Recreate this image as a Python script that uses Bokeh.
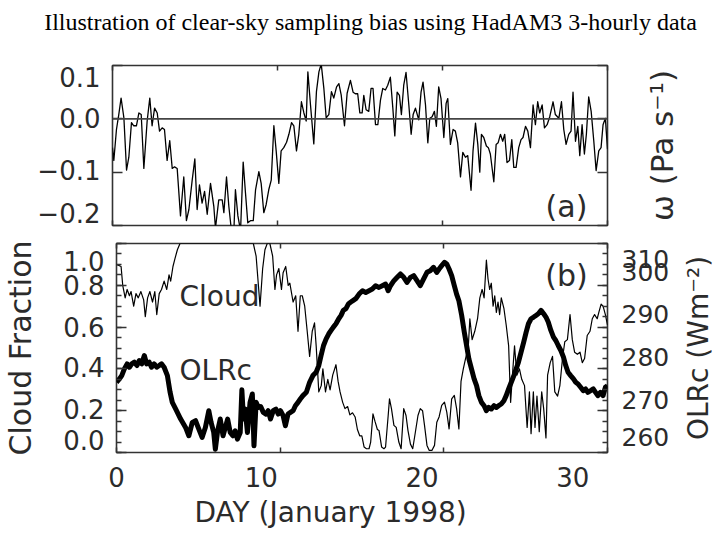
from math import pi
from bokeh.plotting import figure
from bokeh.models import (Range1d, LinearAxis, FixedTicker, SingleIntervalTicker, Span, Label,
                          AllLabels, Title)
from bokeh.layouts import column, row
from bokeh.embed import file_html
from bokeh.resources import INLINE

# ---------------- data ----------------
title_text = "Illustration of clear-sky sampling bias using HadAM3 3-hourly data"

day_ticks = [0, 10, 20, 30]
day_tick_labels = ["0", "10", "20", "30"]

omega_ticks = [0.1, 0.0, -0.1, -0.2]
omega_tick_labels = ["0.1", "0.0", "\u22120.1", "\u22120.2"]

cloud_ticks = [1.0, 0.8, 0.6, 0.4, 0.2, 0.0]
cloud_tick_labels = ["1.0", "0.8", "0.6", "0.4", "0.2", "0.0"]

olr_ticks = [310, 300, 290, 280, 270, 260]
olr_tick_labels = ["310", "300", "290", "280", "270", "260"]

omega_day = [0.00, 0.08, 0.24, 0.38, 0.52, 0.69, 0.85, 0.99, 1.15, 1.29, 1.45, 1.60, 1.74, 1.90,
             2.10, 2.26, 2.40, 2.55, 2.71, 2.85, 3.01, 3.15, 3.31, 3.47, 3.62, 3.76, 3.92, 4.12,
             4.32, 4.48, 4.63, 4.83, 4.99, 5.13, 5.27, 5.43, 5.58, 5.74, 5.94, 6.14, 6.24, 6.44,
             6.65, 6.75, 6.91, 7.05, 7.21, 7.35, 7.45, 7.60, 7.76, 7.92, 8.06, 8.20, 8.36, 8.53,
             8.67, 8.87, 9.01, 9.17, 9.31, 9.47, 9.62, 9.78, 9.92, 10.08, 10.22, 10.38, 10.55,
             10.69, 10.85, 10.99, 11.15, 11.29, 11.45, 11.60, 11.74, 11.84, 12.00, 12.20, 12.36,
             12.51, 12.65, 12.81, 12.95, 13.11, 13.27, 13.41, 13.58, 13.72, 13.86, 14.06, 14.22,
             14.42, 14.58, 14.72, 14.86, 14.99, 15.13, 15.23, 15.37, 15.53, 15.67, 15.79, 15.94,
             16.08, 16.24, 16.38, 16.54, 16.68, 16.84, 16.99, 17.11, 17.25, 17.39, 17.51, 17.65,
             17.79, 17.96, 18.10, 18.22, 18.36, 18.56, 18.70, 18.82, 18.97, 19.11, 19.23, 19.37,
             19.51, 19.63, 19.77, 19.91, 20.08, 20.22, 20.32, 20.48, 20.64, 20.78, 20.92, 21.09,
             21.23, 21.39, 21.53, 21.73, 21.85, 22.00, 22.14, 22.26, 22.36, 22.50, 22.66, 22.78,
             22.90, 23.11, 23.25, 23.37, 23.51, 23.65, 23.77, 23.91, 24.06, 24.20, 24.32, 24.46,
             24.62, 24.76, 24.88, 25.03, 25.17, 25.33, 25.49, 25.63, 25.77, 25.89, 26.04, 26.18,
             26.34, 26.50, 26.70, 26.84, 27.05, 27.21, 27.35, 27.49, 27.65, 27.79, 27.91, 28.06,
             28.20, 28.32, 28.46, 28.60, 28.72, 28.86, 29.01, 29.17, 29.31, 29.47, 29.61, 29.73,
             29.87, 30.00]
omega_val = [-0.054, -0.078, -0.020, 0.008, 0.039, 0.002, -0.096, -0.072, -0.007, -0.013, -0.013,
             0.011, 0.008, -0.093, -0.004, 0.039, -0.013, 0.020, 0.011, -0.023, -0.017, -0.020,
             -0.078, -0.041, -0.093, -0.090, -0.093, -0.182, -0.109, -0.191, -0.170, -0.115,
             -0.075, -0.170, -0.124, -0.158, -0.136, -0.179, -0.121, -0.164, -0.205, -0.152,
             -0.152, -0.176, -0.109, -0.164, -0.210, -0.215, -0.133, -0.182, -0.210, -0.081,
             -0.139, -0.195, -0.191, -0.191, -0.133, -0.099, -0.121, -0.176, -0.161, -0.133,
             -0.115, -0.013, -0.060, -0.121, -0.060, -0.054, -0.044, -0.029, -0.007, -0.013,
             -0.060, -0.029, 0.032, 0.011, -0.004, 0.088, 0.026, -0.047, 0.051, 0.088, 0.103,
             0.057, 0.002, 0.008, 0.051, 0.039, 0.060, 0.066, 0.045, -0.013, 0.048,
             0.072, 0.050, 0.047, 0.047, 0.011, 0.011, 0.044, 0.017, 0.014, 0.057, 0.057, -0.011,
             -0.011, 0.035, 0.057, 0.054, 0.063, 0.078, 0.020, -0.032, 0.050, 0.044, 0.008, 0.063,
             0.087, 0.026, -0.029, 0.008, 0.020, -0.002, 0.050, 0.069, 0.026, -0.045, 0.001, 0.004,
             0.014, -0.014, 0.060, 0.038, -0.035, 0.029, 0.038, -0.048, -0.020, -0.023, -0.045,
             -0.109, -0.063, -0.072, -0.069, -0.134, -0.060, -0.008, -0.048, -0.100, -0.029,
             -0.035, -0.051, -0.054, -0.066, -0.118, -0.048, -0.045, -0.029, -0.042, -0.029,
             -0.082, -0.078, -0.039, -0.091, -0.091, -0.054, -0.039, -0.035, -0.014, -0.023,
             -0.054, 0.026, -0.011, 0.032, 0.011, 0.026, -0.017, -0.011, 0.004, 0.032, 0.008,
             0.001, 0.032, -0.020, -0.048, -0.029, -0.023, 0.050, -0.042, -0.014, -0.069, -0.011,
             -0.066, -0.029, 0.041, 0.014, -0.042, -0.097, -0.060, -0.054, -0.011, 0.001, -0.057]

cloud_day = [0.00, 0.28, 0.38, 0.53, 0.65, 0.79, 0.89, 1.05, 1.19, 1.33, 1.49, 1.66, 1.76, 1.90,
             2.04, 2.20, 2.34, 2.46, 2.61, 2.75, 2.91, 3.07, 3.21, 3.31, 3.45, 3.58, 3.72, 3.88,
             4.50, 6.00, 7.50, 8.36, 8.53, 8.67, 8.77, 8.93, 9.07, 9.21, 9.37, 9.54, 9.68, 9.78,
             9.92, 10.08, 10.18, 10.34, 10.49, 10.59, 10.79, 10.95, 11.09, 11.23, 11.35, 11.50,
             11.64, 11.80, 11.96, 12.10, 12.20, 12.36, 12.51, 12.61, 12.77, 12.91, 13.05, 13.21,
             13.41, 13.54, 13.66, 13.82, 13.96, 14.12, 14.26, 14.42, 14.58, 14.72, 14.86, 14.99,
             15.13, 15.27, 15.43, 15.53, 15.67, 15.79, 15.94, 16.04, 16.20, 16.34, 16.44, 16.60,
             16.68, 16.80, 16.95, 17.09, 17.25, 17.39, 17.55, 17.69, 17.81, 17.96, 18.10, 18.26,
             18.42, 18.56, 18.70, 18.82, 18.97, 19.11, 19.27, 19.43, 19.57, 19.71, 19.87, 20.04,
             20.18, 20.32, 20.48, 20.64, 20.78, 20.92, 21.05, 21.19, 21.33, 21.49, 21.59, 21.73,
             21.89, 22.06, 22.20, 22.34, 22.46, 22.60, 22.70, 22.80, 22.90, 23.01, 23.11, 23.21,
             23.31, 23.41, 23.51, 23.67, 23.81, 23.96, 24.08, 24.22, 24.32, 24.46, 24.62, 24.76,
             24.93, 25.09, 25.23, 25.33, 25.47, 25.57, 25.69, 25.83, 25.98, 26.10, 26.24, 26.34,
             26.50, 26.64, 26.78, 26.95, 27.09, 27.25, 27.39, 27.55, 27.71, 27.85, 27.99, 28.16,
             28.32, 28.46, 28.60, 28.76, 28.93, 29.07, 29.21, 29.37, 29.47, 29.61, 29.73, 29.87,
             30.00]
cloud_val = [0.90, 0.89, 0.80, 0.74, 0.78, 0.75, 0.77, 0.70, 0.76, 0.74, 0.77, 0.73, 0.65, 0.74,
             0.77, 0.72, 0.77, 0.66, 0.76, 0.78, 0.82, 0.78, 0.85, 0.82, 0.89, 0.93, 0.97, 1.00,
             1.00, 1.00, 1.00, 1.00, 0.94, 0.80, 0.70, 0.88, 0.97, 1.00, 1.00, 0.94, 0.78, 0.85,
             0.88, 0.78, 0.86, 0.89, 0.80, 0.81, 0.72, 0.75, 0.58, 0.75, 0.75, 0.70,
             0.59, 0.46, 0.58, 0.62, 0.51, 0.29, 0.32, 0.40, 0.29, 0.35, 0.30, 0.37,
             0.42, 0.34, 0.29, 0.24, 0.21, 0.22, 0.18, 0.19, 0.17, 0.11, 0.08, 0.08,
             0.026, 0.018, 0.018, 0.05, 0.185, 0.15, 0.11, 0.105, 0.026, 0.018, 0.026, 0.177,
             0.257, 0.21, 0.13, 0.12, 0.05, 0.018, 0.21, 0.177, 0.105, 0.04, 0.018, 0.097,
             0.177, 0.21, 0.20, 0.13, 0.034, 0.01, 0.01, 0.034, 0.145, 0.17, 0.225, 0.241,
             0.193, 0.113, 0.257, 0.273, 0.21, 0.113, 0.34, 0.40, 0.45, 0.50, 0.64, 0.54,
             0.58, 0.64, 0.74, 0.78, 0.74, 0.92, 0.83, 0.78, 0.81, 0.70, 0.75, 0.67,
             0.72, 0.66, 0.74, 0.69, 0.61, 0.51, 0.24, 0.40, 0.51, 0.37, 0.40, 0.35,
             0.32, 0.12, 0.29, 0.09, 0.29, 0.12, 0.27, 0.10, 0.29, 0.21, 0.07, 0.37,
             0.43, 0.46, 0.29, 0.27, 0.32, 0.45, 0.53, 0.54, 0.66, 0.54, 0.48, 0.47,
             0.48, 0.43, 0.45, 0.56, 0.58, 0.64, 0.66, 0.64, 0.67, 0.71, 0.70, 0.66,
             0.61]

olr_day = [0.00, 0.18, 0.32, 0.48, 0.65, 0.79, 0.93, 1.09, 1.25, 1.39, 1.54, 1.70, 1.84, 2.00,
           2.14, 2.30, 2.46, 2.61, 2.75, 2.91, 3.11, 3.27, 3.41, 3.62, 3.92, 4.22, 4.42, 4.63,
           4.83, 5.03, 5.23, 5.43, 5.64, 5.78, 5.94, 6.04, 6.18, 6.34, 6.51, 6.65, 6.79, 6.95,
           7.11, 7.25, 7.39, 7.56, 7.66, 7.76, 7.86, 8.00, 8.16, 8.30, 8.40, 8.53, 8.67, 8.81,
           8.97, 9.13, 9.27, 9.41, 9.58, 9.74, 9.88, 10.02, 10.18, 10.32, 10.48, 10.63, 10.79,
           10.93, 11.09, 11.23, 11.39, 11.60, 11.80, 12.00, 12.20, 12.36, 12.50, 12.65, 12.81,
           12.97, 13.11, 13.25, 13.41, 13.58, 13.72, 13.86, 14.02, 14.18, 14.32, 14.47, 14.62,
           14.82, 15.03, 15.23, 15.43, 15.63, 15.83, 16.04, 16.24, 16.44, 16.60, 16.74, 16.95,
           17.15, 17.35, 17.55, 17.75, 17.96, 18.16, 18.36, 18.56, 18.76, 18.97, 19.17, 19.37,
           19.57, 19.71, 19.87, 20.04, 20.18, 20.32, 20.48, 20.64, 20.78, 20.92, 21.09, 21.25,
           21.39, 21.53, 21.69, 21.85, 22.00, 22.14, 22.30, 22.46, 22.60, 22.74, 22.90, 23.07,
           23.21, 23.35, 23.51, 23.67, 23.81, 23.96, 24.12, 24.28, 24.42, 24.56, 24.72, 24.88,
           25.03, 25.17, 25.33, 25.49, 25.63, 25.77, 25.94, 26.10, 26.24, 26.38, 26.54, 26.70,
           26.84, 26.99, 27.15, 27.31, 27.45, 27.59, 27.75, 27.92, 28.06, 28.20, 28.36, 28.52,
           28.66, 28.80, 28.97, 29.13, 29.27, 29.41, 29.57, 29.73, 29.87, 30.00]
olr_val = [276.8, 277.6, 278.4, 280.0, 281.2, 280.4, 281.2, 281.6, 280.8, 282.0, 281.2, 283.2,
           281.2, 281.6, 280.4, 281.2, 280.4, 280.8, 281.2, 280.4, 278.4, 274.5, 272.0, 270.4,
           268.0, 266.0, 264.0, 267.2, 267.6, 265.6, 263.6, 266.0, 270.0, 267.2, 264.8, 260.8,
           265.2, 268.0, 264.0, 266.0, 268.0, 264.8, 264.0, 265.2, 263.2, 264.8, 275.0, 268.0,
           270.4, 264.8, 272.0, 274.0, 261.6, 272.0, 270.8, 271.0, 269.6, 269.2, 270.0, 268.0,
           270.0, 270.4, 269.2, 270.0, 268.8, 266.4, 269.2, 269.6, 270.0, 271.2, 272.0, 272.8,
           273.6, 274.4, 276.8, 278.4, 279.2, 280.8, 283.2, 285.6, 287.2, 288.4, 289.2, 290.0,
           290.8, 292.0, 292.8, 294.0, 294.4, 295.6, 296.0, 296.4, 296.8, 297.9, 298.7, 298.3,
           298.7, 299.1, 299.9, 299.5, 299.9, 300.3, 298.7, 299.9, 301.1, 301.9, 302.7, 301.9,
           300.7, 301.9, 302.3, 301.1, 299.9, 301.5, 303.1, 303.5, 304.3, 303.1, 303.9, 304.7,
           305.5, 305.1, 303.9, 302.3, 299.9, 297.9, 296.3, 292.8, 288.8, 285.6, 282.4, 280.0,
           277.6, 276.0, 273.6, 272.0, 271.2, 270.0, 270.8, 270.4, 271.2, 270.8, 271.2, 271.6,
           272.4, 273.6, 275.2, 276.8, 278.4, 280.0, 281.6, 284.0, 286.4, 288.8, 290.8, 292.0,
           292.4, 292.8, 293.2, 294.0, 293.2, 292.4, 291.2, 289.2, 287.6, 286.8, 285.6, 284.4,
           282.8, 280.8, 279.2, 278.4, 277.6, 276.8, 276.4, 275.6, 274.8, 275.2, 274.4, 274.8,
           275.2, 274.4, 273.6, 274.4, 273.6, 275.6, 276.0]

# ---------------- style / layout ----------------
FONT = "DejaVu Sans"
TXT = "#2b2b2b"
FRAME = "#333333"
TS = "26px"

W_TOTAL = 718
HT = 40                      # height of the title strip
WA, WB = 630, 674            # canvas widths of the two panels
HA, HB = 195, 302            # canvas heights of the two panels
BL = 112                     # left border (frame starts at x=112)
FRAME_W = 495
FA_H, FB_H = 163, 209

# pixel shifts of tick labels relative to their ticks (down / right positive)
omega_lab_down = [12, -1, -2, -13]
cloud_lab_down = [17, 0, 0, -1.6, -1.8, -12]
olr_lab_down = [16, -13, -13, -11.6, -11, -15]
day_lab_right = [0, -19, -22, -35]


def tick_axis(ticker, tick_in, minor_in=0, **kw):
    ax = LinearAxis(ticker=ticker, **kw)
    ax.major_tick_in = tick_in
    ax.major_tick_out = 0
    ax.minor_tick_in = minor_in
    ax.minor_tick_out = 0
    ax.axis_line_color = None
    ax.major_tick_line_color = FRAME
    ax.minor_tick_line_color = FRAME
    ax.major_tick_line_width = 1.5
    ax.minor_tick_line_width = 1.5
    ax.major_label_text_font_size = "0px"
    ax.major_label_text_color = None
    ax.major_label_standoff = 0
    return ax


def label_axis(ticks, labels, down_px, units_per_px, standoff, size=TS, sign=1.0, **kw):
    pos = [round(t - sign * d * units_per_px, 5) for t, d in zip(ticks, down_px)]
    ax = LinearAxis(ticker=FixedTicker(ticks=pos), **kw)
    ax.major_label_overrides = {p: s for p, s in zip(pos, labels)}
    ax.major_label_policy = AllLabels()
    ax.major_tick_in = 0
    ax.major_tick_out = 0
    ax.minor_tick_in = 0
    ax.minor_tick_out = 0
    ax.axis_line_color = None
    ax.major_tick_line_color = None
    ax.minor_tick_line_color = None
    ax.major_label_text_font = FONT
    ax.major_label_text_font_size = size
    ax.major_label_text_color = TXT
    ax.major_label_standoff = standoff
    ax.axis_label_text_font = FONT
    ax.axis_label_text_color = TXT
    ax.axis_label_text_font_style = "normal"
    return ax


def base_fig(w, h, yr, top, bottom, **kw):
    p = figure(width=w, height=h, x_range=Range1d(0, 30), y_range=yr,
               output_backend="svg", toolbar_location=None,
               min_border_left=BL, min_border_right=w - BL - FRAME_W,
               min_border_top=top, min_border_bottom=bottom,
               x_axis_location=None, y_axis_location=None, **kw)
    p.grid.grid_line_color = None
    p.outline_line_color = FRAME
    p.outline_line_width = 1.6
    p.background_fill_color = "white"
    p.border_fill_color = "white"
    return p


def blank_fig(w, h, left=0, right=0, top=0, bottom=0):
    f = figure(width=w, height=h, x_range=Range1d(0, 1), y_range=Range1d(0, 1),
               output_backend="svg", toolbar_location=None, min_border=0,
               min_border_left=left, min_border_right=right,
               min_border_top=top, min_border_bottom=bottom,
               x_axis_location=None, y_axis_location=None)
    f.grid.grid_line_color = None
    f.outline_line_color = None
    f.background_fill_color = "white"
    f.border_fill_color = "white"
    return f


def vertical_title_fig(w, h, text, size, left, standoff, top, bottom):
    """Rotated title (reads bottom to top) drawn as the axis label of a tickless left axis."""
    f = blank_fig(w, h, left=left, top=top, bottom=bottom)
    ax = LinearAxis(ticker=FixedTicker(ticks=[]))
    ax.axis_line_color = None
    ax.major_tick_line_color = None
    ax.minor_tick_line_color = None
    ax.major_tick_in = 0
    ax.major_tick_out = 0
    ax.minor_tick_in = 0
    ax.minor_tick_out = 0
    ax.major_label_text_font_size = "0px"
    ax.major_label_text_color = None
    ax.major_label_standoff = 0
    ax.axis_label = text
    ax.axis_label_standoff = standoff
    ax.axis_label_text_font = FONT
    ax.axis_label_text_font_size = size
    ax.axis_label_text_font_style = "normal"
    ax.axis_label_text_color = TXT
    f.add_layout(ax, "left")
    return f


# ---------------- title strip ----------------
tt = blank_fig(W_TOTAL, HT)
tt.add_layout(Label(x=370 / W_TOTAL, y=1 - 21 / HT, text=title_text, text_align="center",
                    text_baseline="middle", text_font="Liberation Serif", text_font_size="24px",
                    text_color="black"))

# ---------------- panel (a) ----------------
pa = base_fig(WA, HA, Range1d(-0.2, 0.1), 65 - HT, 7)
for loc in ("below", "above"):
    pa.add_layout(tick_axis(FixedTicker(ticks=day_ticks), 5), loc)
pa.add_layout(tick_axis(FixedTicker(ticks=omega_ticks), 10), "left")
pa.add_layout(label_axis(omega_ticks, omega_tick_labels, omega_lab_down, 0.3 / FA_H, 12), "left")
pa.add_layout(tick_axis(FixedTicker(ticks=omega_ticks), 10), "right")

pa.add_layout(Span(location=0, dimension="width", line_color="#444444", line_width=1.8))
pa.line(omega_day, omega_val, line_color="black", line_width=1.3, line_join="round")
pa.add_layout(Label(x=30, y=-0.2, x_offset=-41, y_offset=19, text="(a)", text_align="center",
                    text_baseline="middle", text_font=FONT, text_font_size="30px", text_color=TXT))

# omega title, to the right of panel (a)
ra = vertical_title_fig(W_TOTAL - WA, HA, "\u03c9 (Pa s\u207b\u00b9)", "31px",
                        left=52, standoff=3, top=0, bottom=10)

# ---------------- panel (b) ----------------
pb = base_fig(WB, HB, Range1d(0, 1), 8, HB - 8 - FB_H, extra_y_ranges={"olr": Range1d(260, 310)})
pb.add_layout(tick_axis(FixedTicker(ticks=day_ticks), 5), "above")
pb.add_layout(tick_axis(FixedTicker(ticks=day_ticks), 5), "below")
ax_day = label_axis(day_ticks, day_tick_labels, day_lab_right, 30 / FRAME_W, 14, sign=-1.0)
pb.add_layout(ax_day, "below")
pb.add_layout(Title(text="DAY (January 1998)", align="left", offset=78, standoff=9,
                    text_font=FONT, text_font_size="28px", text_font_style="normal",
                    text_color=TXT), "below")

pb.add_layout(tick_axis(SingleIntervalTicker(interval=0.2, num_minor_ticks=4), 10, 5), "left")
ax_cf = label_axis(cloud_ticks, cloud_tick_labels, cloud_lab_down, 1.0 / FB_H, 12)
ax_cf.axis_label = "Cloud Fraction"
ax_cf.axis_label_text_font_size = "30px"
ax_cf.axis_label_standoff = 22
pb.add_layout(ax_cf, "left")

pb.add_layout(tick_axis(SingleIntervalTicker(interval=10, num_minor_ticks=4), 10, 5,
                        y_range_name="olr"), "right")
ax_olr = label_axis(olr_ticks, olr_tick_labels, olr_lab_down, 50 / FB_H, 14, size="25px",
                    y_range_name="olr")
pb.add_layout(ax_olr, "right")

pb.line(cloud_day, cloud_val, line_color="black", line_width=1.2, line_join="round")
pb.line(olr_day, olr_val, y_range_name="olr", line_color="black", line_width=5, line_join="round")

for text, dy in [("Cloud", -53), ("OLRc", -127)]:
    pb.add_layout(Label(x=0, y=1.0, x_offset=63, y_offset=dy, text=text, text_align="left",
                        text_baseline="middle", text_font=FONT, text_font_size="28px",
                        text_color=TXT))
pb.add_layout(Label(x=30, y=1.0, x_offset=-41, y_offset=-32, text="(b)", text_align="center",
                    text_baseline="middle", text_font=FONT, text_font_size="30px", text_color=TXT))

# OLRc title, to the right of panel (b)
rb = vertical_title_fig(W_TOTAL - WB, HB, "OLRc (Wm\u207b\u00b2)", "28px",
                        left=41, standoff=1, top=8, bottom=77)

layout = column(tt, row(pa, ra, spacing=0), row(pb, rb, spacing=0), spacing=0)
open("out.html", "w").write(file_html(layout, INLINE))
